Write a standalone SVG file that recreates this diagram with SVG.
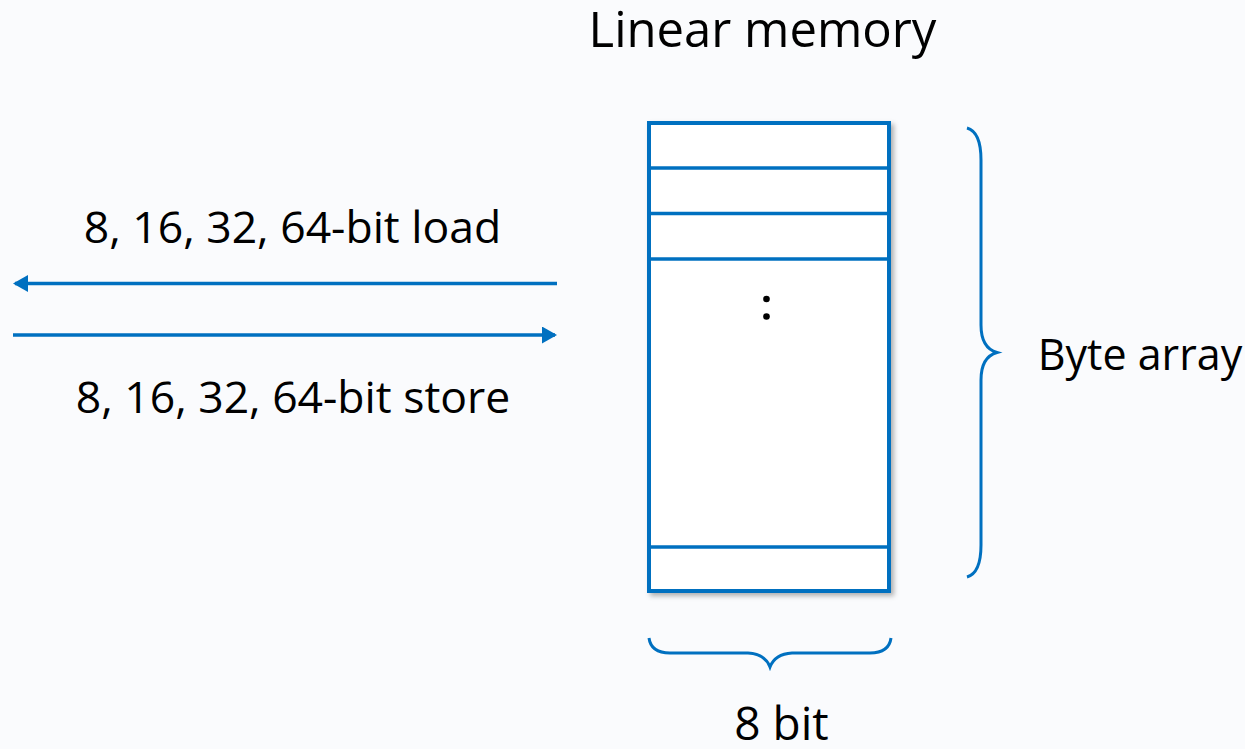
<svg xmlns="http://www.w3.org/2000/svg" width="1245" height="749" viewBox="0 0 1245 749">
  <style>
    .lbl { font-family: "Open Sans", "Noto Sans", "Liberation Sans", sans-serif; font-size: 44.5px; fill: #000; }
    .blue { stroke: #0070C0; fill: none; }
  </style>
  <defs>
    <marker id="head" viewBox="0 0 15 17" refX="13" refY="8.5" markerWidth="15" markerHeight="17" markerUnits="userSpaceOnUse" orient="auto">
      <path d="M0,0 L15,8.5 L0,17 z" fill="#0070C0"/>
    </marker>
    <filter id="shadow" x="-10%" y="-10%" width="130%" height="130%">
      <feDropShadow dx="3" dy="3" stdDeviation="2.5" flood-color="#000" flood-opacity="0.3"/>
    </filter>
  </defs>
  <rect width="1245" height="749" fill="#FAFBFD"/>

  <text class="lbl" x="762.5" y="47" text-anchor="middle" style="font-size:49px">Linear memory</text>

  <!-- memory cells -->
  <g id="memory">
    <rect x="649" y="123" width="240" height="468" fill="#fff" stroke="#0070C0" stroke-width="4" filter="url(#shadow)"/>
    <g class="blue" stroke-width="3.5">
      <line x1="649" y1="168" x2="889" y2="168"/>
      <line x1="649" y1="213.5" x2="889" y2="213.5"/>
      <line x1="649" y1="259" x2="889" y2="259"/>
      <line x1="649" y1="547" x2="889" y2="547"/>
    </g>
    <circle cx="766.5" cy="299" r="3.3" fill="#000"/>
    <circle cx="766.5" cy="316.5" r="3.3" fill="#000"/>
  </g>

  <!-- braces -->
  <g id="byte-array">
    <path class="blue" stroke-width="3" d="M967,128 Q981,132 981,160 L981,325 Q981,348 997,352.5 Q981,357 981,380 L981,545 Q981,573 967,577"/>
    <text class="lbl" x="1140" y="370" text-anchor="middle" style="font-size:43px">Byte array</text>
  </g>
  <g id="width">
    <path class="blue" stroke-width="3" d="M649,638 Q651,653 670,653 L748,653 Q765,654 770,667 Q775,654 792,653 L870,653 Q889,653 891,638"/>
    <text class="lbl" x="781.5" y="740" text-anchor="middle" style="font-size:46px">8 bit</text>
  </g>

  <!-- load / store -->
  <g id="connectors" class="blue" stroke-width="3.5">
    <line x1="557" y1="283.5" x2="15" y2="283.5" marker-end="url(#head)"/>
    <line x1="13" y1="335" x2="555" y2="335" marker-end="url(#head)"/>
  </g>
  <g id="labels">
    <text class="lbl" x="292.5" y="243" text-anchor="middle">8, 16, 32, 64-bit load</text>
    <text class="lbl" x="293" y="413" text-anchor="middle">8, 16, 32, 64-bit store</text>
  </g>
</svg>
